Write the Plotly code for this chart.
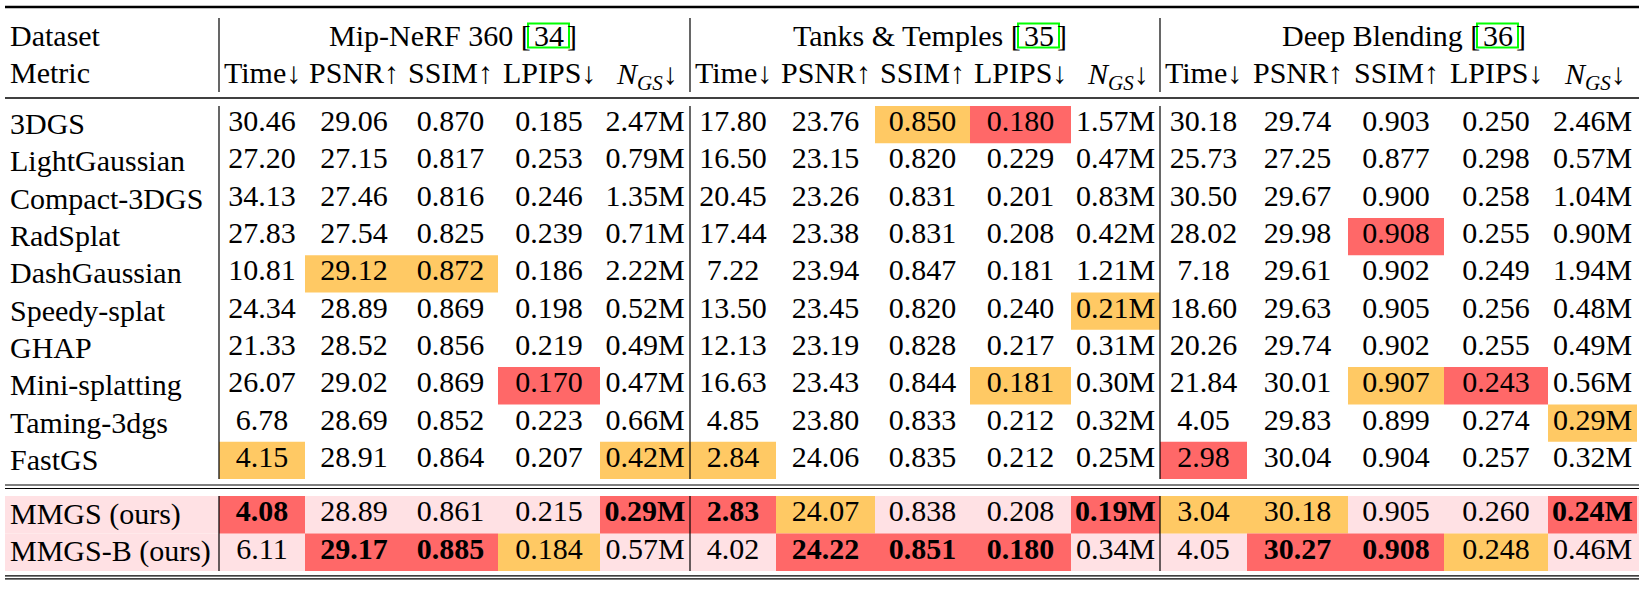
import plotly.graph_objects as go

methods = ["3DGS", "LightGaussian", "Compact-3DGS", "RadSplat", "DashGaussian",
           "Speedy-splat", "GHAP", "Mini-splatting", "Taming-3dgs", "FastGS",
           "MMGS (ours)", "MMGS-B (ours)"]
ours = ["MMGS (ours)", "MMGS-B (ours)"]
datasets = ["Mip-NeRF 360", "Tanks & Temples", "Deep Blending"]
refs = ["34", "35", "36"]
metrics = ["Time↓", "PSNR↑", "SSIM↑", "LPIPS↓", "<i>N</i><sub><i>GS</i></sub>↓"]

# Time, PSNR, SSIM, LPIPS, N_GS
mip = [
    ["30.46", "29.06", "0.870", "0.185", "2.47M"],
    ["27.20", "27.15", "0.817", "0.253", "0.79M"],
    ["34.13", "27.46", "0.816", "0.246", "1.35M"],
    ["27.83", "27.54", "0.825", "0.239", "0.71M"],
    ["10.81", "29.12", "0.872", "0.186", "2.22M"],
    ["24.34", "28.89", "0.869", "0.198", "0.52M"],
    ["21.33", "28.52", "0.856", "0.219", "0.49M"],
    ["26.07", "29.02", "0.869", "0.170", "0.47M"],
    ["6.78", "28.69", "0.852", "0.223", "0.66M"],
    ["4.15", "28.91", "0.864", "0.207", "0.42M"],
    ["4.08", "28.89", "0.861", "0.215", "0.29M"],
    ["6.11", "29.17", "0.885", "0.184", "0.57M"],
]
tnt = [
    ["17.80", "23.76", "0.850", "0.180", "1.57M"],
    ["16.50", "23.15", "0.820", "0.229", "0.47M"],
    ["20.45", "23.26", "0.831", "0.201", "0.83M"],
    ["17.44", "23.38", "0.831", "0.208", "0.42M"],
    ["7.22", "23.94", "0.847", "0.181", "1.21M"],
    ["13.50", "23.45", "0.820", "0.240", "0.21M"],
    ["12.13", "23.19", "0.828", "0.217", "0.31M"],
    ["16.63", "23.43", "0.844", "0.181", "0.30M"],
    ["4.85", "23.80", "0.833", "0.212", "0.32M"],
    ["2.84", "24.06", "0.835", "0.212", "0.25M"],
    ["2.83", "24.07", "0.838", "0.208", "0.19M"],
    ["4.02", "24.22", "0.851", "0.180", "0.34M"],
]
db = [
    ["30.18", "29.74", "0.903", "0.250", "2.46M"],
    ["25.73", "27.25", "0.877", "0.298", "0.57M"],
    ["30.50", "29.67", "0.900", "0.258", "1.04M"],
    ["28.02", "29.98", "0.908", "0.255", "0.90M"],
    ["7.18", "29.61", "0.902", "0.249", "1.94M"],
    ["18.60", "29.63", "0.905", "0.256", "0.48M"],
    ["20.26", "29.74", "0.902", "0.255", "0.49M"],
    ["21.84", "30.01", "0.907", "0.243", "0.56M"],
    ["4.05", "29.83", "0.899", "0.274", "0.29M"],
    ["2.98", "30.04", "0.904", "0.257", "0.32M"],
    ["3.04", "30.18", "0.905", "0.260", "0.24M"],
    ["4.05", "30.27", "0.908", "0.248", "0.46M"],
]

# 1 = best, 2 = second best
mip_rank = [
    [0, 0, 0, 0, 0], [0, 0, 0, 0, 0], [0, 0, 0, 0, 0], [0, 0, 0, 0, 0],
    [0, 2, 2, 0, 0], [0, 0, 0, 0, 0], [0, 0, 0, 0, 0], [0, 0, 0, 1, 0],
    [0, 0, 0, 0, 0], [2, 0, 0, 0, 2], [1, 0, 0, 0, 1], [0, 1, 1, 2, 0],
]
tnt_rank = [
    [0, 0, 2, 1, 0], [0, 0, 0, 0, 0], [0, 0, 0, 0, 0], [0, 0, 0, 0, 0],
    [0, 0, 0, 0, 0], [0, 0, 0, 0, 2], [0, 0, 0, 0, 0], [0, 0, 0, 2, 0],
    [0, 0, 0, 0, 0], [2, 0, 0, 0, 0], [1, 2, 0, 0, 1], [0, 1, 1, 1, 0],
]
db_rank = [
    [0, 0, 0, 0, 0], [0, 0, 0, 0, 0], [0, 0, 0, 0, 0], [0, 0, 1, 0, 0],
    [0, 0, 0, 0, 0], [0, 0, 0, 0, 0], [0, 0, 0, 0, 0], [0, 0, 2, 1, 0],
    [0, 0, 0, 0, 2], [1, 0, 0, 0, 0], [2, 2, 0, 0, 1], [0, 1, 1, 2, 0],
]

# ---- layout (axis units = pixels) ----
W, H = 1641, 590
FONT = "Liberation Serif, DejaVu Serif, serif"
FS = 30
TXT = dict(family=FONT, size=FS, color="black")
RED, ORANGE, PINK, GREEN = "#ff6868", "#ffc964", "#ffe1e4", "#00ff00"
X0, X1 = 5, 1639
LABEL_X = 9
group_edges = [
    [219, 305, 403, 498, 600, 690],
    [690, 776, 875, 970, 1071, 1160],
    [1160, 1247, 1348, 1444, 1548, 1637],
]
ref_box_x = [528, 1018, 1477]
REF_W = 41
HEAD1_Y, HEAD2_Y = 35, 72


def row_top(i):
    if i < 10:
        return 106 + 37.3 * i
    return 496 + 37.5 * (i - 10)


def row_h(i):
    return 37.3 if i < 10 else 37.5


def label(x, y, text, anchor="left"):
    return dict(x=x, y=y, text=text, xanchor=anchor, yanchor="middle", showarrow=False,
                borderpad=0, font=TXT)


fig = go.Figure()
shapes = []
annotations = []

# pink background for our rows
for i, m in enumerate(methods):
    if m in ours:
        shapes.append(dict(type="rect", x0=X0, x1=X1, y0=row_top(i), y1=row_top(i) + row_h(i),
                           fillcolor=PINK, line_width=0, layer="below"))

xs, ys, texts = [], [], []
for g, (vals, ranks) in enumerate(zip([mip, tnt, db], [mip_rank, tnt_rank, db_rank])):
    edges = group_edges[g]
    for i, m in enumerate(methods):
        top = row_top(i)
        for j in range(len(metrics)):
            r = ranks[i][j]
            if r:
                shapes.append(dict(type="rect", x0=edges[j], x1=edges[j + 1], y0=top, y1=top + row_h(i),
                                   fillcolor=RED if r == 1 else ORANGE, line_width=0, layer="below"))
            t = vals[i][j]
            if r == 1 and m in ours:
                t = "<b>" + t + "</b>"
            xs.append((edges[j] + edges[j + 1]) / 2)
            ys.append(top + row_h(i) / 2 - 1)
            texts.append(t)

fig.add_trace(go.Scatter(x=xs, y=ys, text=texts, mode="text", textposition="middle center",
                         textfont=TXT, hoverinfo="skip", showlegend=False))

# row labels
for i, m in enumerate(methods):
    annotations.append(label(LABEL_X, row_top(i) + row_h(i) / 2 - 1, m))
annotations.append(label(LABEL_X, HEAD1_Y, "Dataset"))
annotations.append(label(LABEL_X, HEAD2_Y, "Metric"))

# group headers
for g, name in enumerate(datasets):
    edges = group_edges[g]
    bx = ref_box_x[g]
    annotations.append(label(bx + 4, HEAD1_Y, name + " [", "right"))
    annotations.append(label(bx + REF_W / 2, HEAD1_Y, refs[g], "center"))
    annotations.append(label(bx + REF_W - 3, HEAD1_Y, "]", "left"))
    shapes.append(dict(type="rect", x0=bx, x1=bx + REF_W, y0=23.5, y1=47.5,
                       line=dict(color=GREEN, width=2), fillcolor="rgba(0,0,0,0)"))
    for j, met in enumerate(metrics):
        # the subscript makes the text box taller below the baseline, so push it down
        y = HEAD2_Y + 4 if "<sub>" in met else HEAD2_Y
        annotations.append(label((edges[j] + edges[j + 1]) / 2 + (2 if j == 4 else 0), y, met, "center"))


def hline(y, w):
    shapes.append(dict(type="line", x0=X0, x1=X1, y0=y, y1=y, line=dict(color="black", width=w)))


hline(7, 2.5)
hline(98, 1.3)
hline(485, 1.2)
hline(488.5, 1.2)
hline(575.8, 1.3)
hline(578.8, 1.3)

# vertical separators
for edges in group_edges:
    x = edges[0]
    for y0, y1 in [(18, 92), (106, 479), (496, 571)]:
        shapes.append(dict(type="line", x0=x, x1=x, y0=y0, y1=y1, line=dict(color="black", width=1.2)))

fig.update_layout(
    width=W, height=H,
    margin=dict(l=0, r=0, t=0, b=0),
    paper_bgcolor="white", plot_bgcolor="white",
    font=TXT,
    xaxis=dict(range=[0, W], visible=False, fixedrange=True),
    yaxis=dict(range=[H, 0], visible=False, fixedrange=True),
    shapes=shapes, annotations=annotations,
)

fig.write_html("out.html", config=dict(displayModeBar=False),
               post_script="document.body.style.margin='0';document.body.style.overflow='hidden';")
